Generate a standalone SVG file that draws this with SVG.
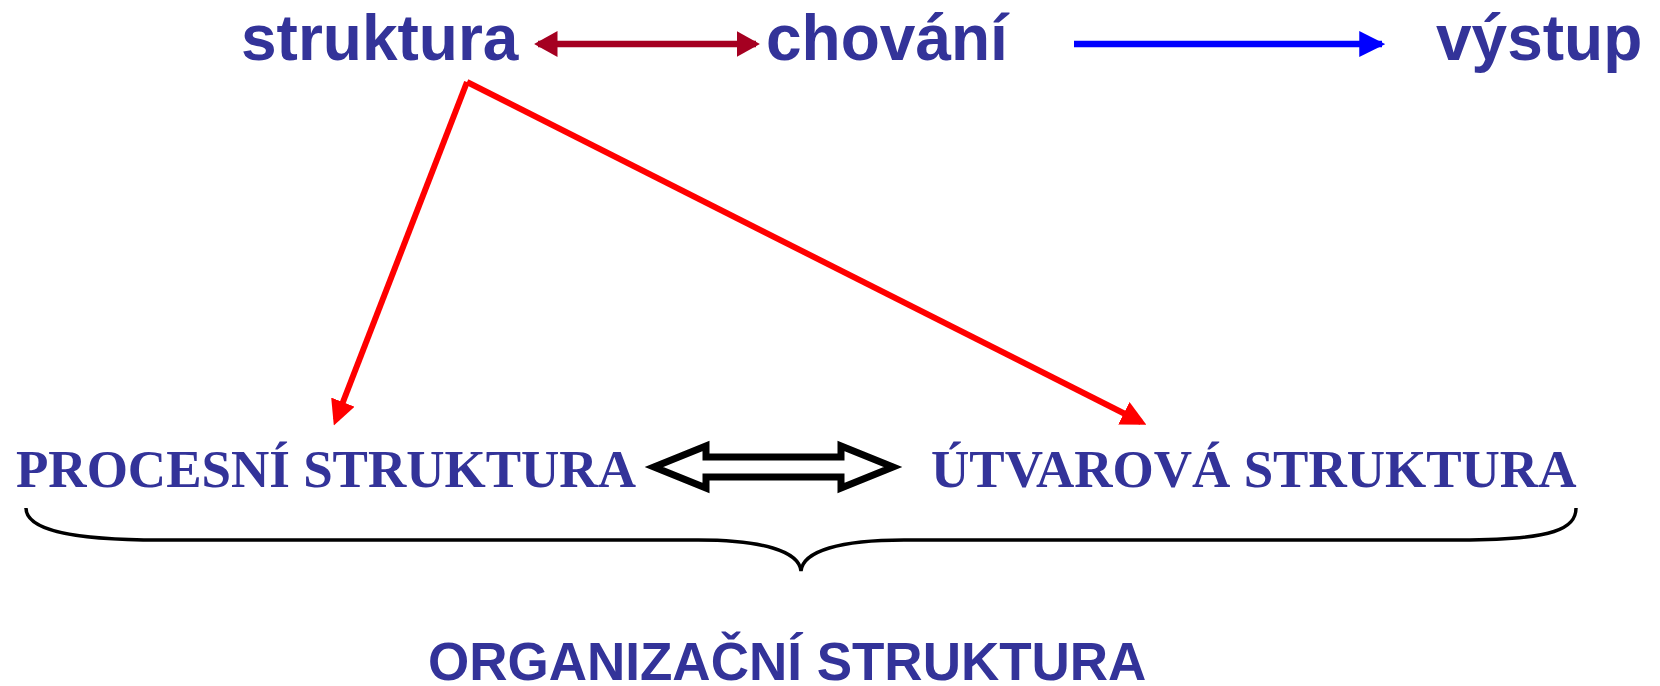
<svg xmlns="http://www.w3.org/2000/svg" width="1660" height="686" viewBox="0 0 1660 686">
<style>
.top{font-family:"Liberation Sans",Arial,sans-serif;font-weight:bold;font-size:64px;fill:#333399}
.ser{font-family:"Liberation Serif","Times New Roman",serif;font-weight:bold;font-size:53px;fill:#333399}
.org{font-family:"Liberation Sans",Arial,sans-serif;font-weight:bold;font-size:53px;fill:#333399}
</style>
<defs>
<marker id="mRed" markerWidth="4.2" markerHeight="4.2" refX="3.2" refY="2.1" orient="auto" markerUnits="strokeWidth"><path d="M0,0 L4.2,2.1 L0,4.2 z" fill="#ff0000"/></marker>
<marker id="mDark" markerWidth="3.6" markerHeight="4" refX="3" refY="2" orient="auto-start-reverse" markerUnits="strokeWidth"><path d="M0,0 L3.6,2 L0,4 z" fill="#a50021"/></marker>
<marker id="mBlue" markerWidth="4" markerHeight="4" refX="3.5" refY="2" orient="auto" markerUnits="strokeWidth"><path d="M0,0 L4,2 L0,4 z" fill="#0000ff"/></marker>
</defs>
<g id="n-struktura"><text class="top" x="241" y="60">struktura</text></g>
<g id="n-chovani"><text class="top" x="766" y="60">chování</text></g>
<g id="n-vystup"><text class="top" x="1436" y="60">výstup</text></g>
<g id="n-procesni"><text class="ser" x="16" y="487">PROCESNÍ STRUKTURA</text></g>
<g id="n-utvarova"><text class="ser" x="931" y="487">ÚTVAROVÁ STRUKTURA</text></g>
<g id="n-org"><text class="org" x="428" y="680">ORGANIZAČNÍ STRUKTURA</text></g>
<g id="connectors">
<line x1="538" y1="44" x2="756" y2="44" stroke="#a50021" stroke-width="6.5" marker-start="url(#mDark)" marker-end="url(#mDark)"/>
<line x1="1074" y1="44" x2="1382" y2="44" stroke="#0000ff" stroke-width="6.5" marker-end="url(#mBlue)"/>
<line x1="467" y1="82" x2="336" y2="420" stroke="#ff0000" stroke-width="6" marker-end="url(#mRed)"/>
<line x1="467" y1="82" x2="1141" y2="422" stroke="#ff0000" stroke-width="6" marker-end="url(#mRed)"/>
<path d="M654,467 L706,446 L706,457 L841,457 L841,446 L893,467 L841,488 L841,477 L706,477 L706,488 Z" fill="#ffffff" stroke="#000000" stroke-width="7" stroke-linejoin="miter"/>
<path d="M26,508 C26,528 64,540 160,540 L698,540 C762,540 799,551 801,571 C803,551 840,540 904,540 L1460,540 C1556,540 1576,528 1576,508" fill="none" stroke="#000000" stroke-width="3.5"/>
</g>
</svg>
